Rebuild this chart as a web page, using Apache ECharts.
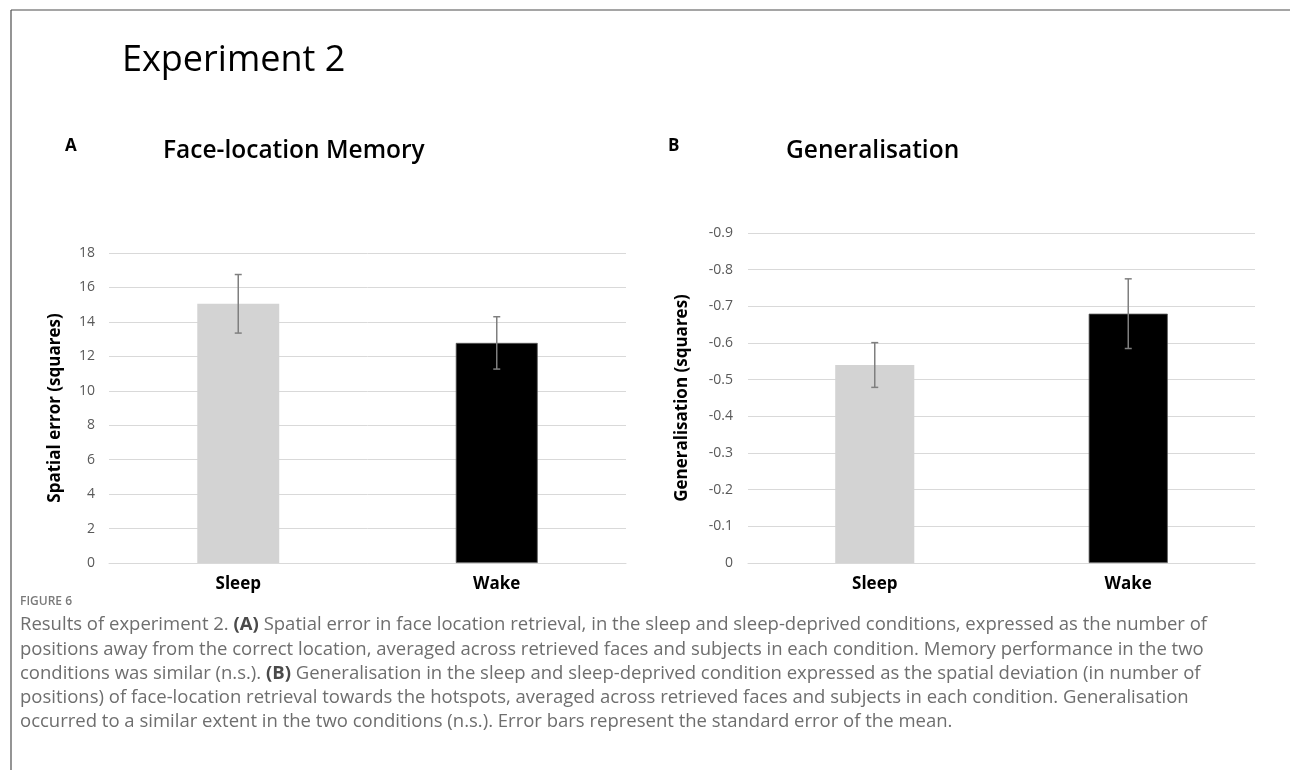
<!DOCTYPE html>
<html>
<head>
<meta charset="utf-8">
<script src="https://cdn.jsdelivr.net/npm/echarts@6/dist/echarts.min.js"></script>
<style>
html,body{margin:0;padding:0;background:#fff;}
#c{width:1290px;height:770px;}
</style>
</head>
<body>
<div id="c"></div>
<script>
// ---- data ----
const categories = ['Sleep', 'Wake'];
const memoryMeans = [15.05, 12.78];
const memorySE = [1.70, 1.52];
const genMeans = [-0.54, -0.68];
const genSE = [0.061, 0.095];
const barColors = ['#d3d3d3', '#000000'];
const captionLines = [
  'Results of experiment 2. {b|(A)} Spatial error in face location retrieval, in the sleep and sleep-deprived conditions, expressed as the number of',
  'positions away from the correct location, averaged across retrieved faces and subjects in each condition. Memory performance in the two',
  'conditions was similar (n.s.). {b|(B)} Generalisation in the sleep and sleep-deprived condition expressed as the spatial deviation (in number of',
  'positions) of face-location retrieval towards the hotspots, averaged across retrieved faces and subjects in each condition. Generalisation',
  'occurred to a similar extent in the two conditions (n.s.). Error bars represent the standard error of the mean.'
];

const FONT = '"Open Sans", "Noto Sans", sans-serif';
const chart = echarts.init(document.getElementById('c'), null, {renderer: 'canvas'});

function errRender(params, api) {
  const x = api.value(0);
  const p1 = api.coord([x, api.value(1)]);
  const p2 = api.coord([x, api.value(2)]);
  const st = {stroke: '#7f7f7f', lineWidth: 1.5};
  const w = 3.5;
  return {
    type: 'group',
    children: [
      {type: 'line', shape: {x1: p1[0], y1: p1[1], x2: p2[0], y2: p2[1]}, style: st},
      {type: 'line', shape: {x1: p1[0] - w, y1: p1[1], x2: p1[0] + w, y2: p1[1]}, style: st},
      {type: 'line', shape: {x1: p2[0] - w, y1: p2[1], x2: p2[0] + w, y2: p2[1]}, style: st}
    ]
  };
}

function barData(vals) {
  return vals.map((v, i) => ({value: v, itemStyle: {color: barColors[i], borderColor: i === 1 ? '#595959' : barColors[i], borderWidth: i === 1 ? 0.8 : 0}}));
}

const axisLabelStyle = {color: '#595959', fontSize: 14, fontFamily: FONT};
const catLabel = {color: '#000', fontSize: 17, fontWeight: 'bold', fontFamily: FONT, margin: 13};
const gridLine = {show: true, lineStyle: {color: '#d9d9d9', width: 1}};

function txt(x, y, text, size, weight, fill) {
  return {type: 'text', x: x, y: y, style: {text: text, fontSize: size, fontWeight: weight, fontFamily: FONT, fill: fill, verticalAlign: 'middle', align: 'left'}};
}

const graphics = [
  {type: 'line', shape: {x1: 11, y1: 10, x2: 1290, y2: 10}, style: {stroke: '#4d4d4d', lineWidth: 1.2}},
  {type: 'line', shape: {x1: 11, y1: 10, x2: 11, y2: 770}, style: {stroke: '#4d4d4d', lineWidth: 1.2}},
  txt(122, 61, 'Experiment 2', 36, 'normal', '#000'),
  txt(65, 146, 'A', 17, 'bold', '#000'),
  txt(163, 151, 'Face-location Memory', 24.5, 600, '#000'),
  txt(668, 146, 'B', 17, 'bold', '#000'),
  txt(786, 151, 'Generalisation', 24.5, 600, '#000'),
  txt(20, 602, 'FIGURE 6', 12, 600, '#7a7a7a')
];
captionLines.forEach((t, i) => {
  graphics.push({
    type: 'text', x: 20, y: 625 + i * 24.3,
    style: {
      text: t, fontSize: 18.5, fontFamily: FONT, fill: '#6e6e6e', verticalAlign: 'middle', align: 'left',
      rich: {b: {fontSize: 18.5, fontWeight: 'bold', fontFamily: FONT, fill: '#4a4a4a'}}
    }
  });
});

const option = {
  animation: false,
  backgroundColor: '#fff',
  graphic: graphics,
  grid: [
    {left: 109, right: 1290 - 626, top: 253, bottom: 770 - 563},
    {left: 748, right: 1290 - 1255, top: 233, bottom: 770 - 563}
  ],
  xAxis: [
    {type: 'category', gridIndex: 0, data: categories, axisTick: {show: false},
     axisLine: {lineStyle: {color: '#d9d9d9'}}, axisLabel: catLabel},
    {type: 'category', gridIndex: 1, data: categories, axisTick: {show: false},
     axisLine: {lineStyle: {color: '#d9d9d9'}}, axisLabel: catLabel}
  ],
  yAxis: [
    {type: 'value', gridIndex: 0, min: 0, max: 18, interval: 2,
     axisLine: {show: false}, axisTick: {show: false}, splitLine: gridLine,
     axisLabel: Object.assign({margin: 14}, axisLabelStyle),
     name: 'Spatial error (squares)', nameLocation: 'middle', nameRotate: 90, nameGap: 45,
     nameTextStyle: {fontSize: 17, fontWeight: 'bold', fontFamily: FONT, color: '#000'}},
    {type: 'value', gridIndex: 1, min: -0.9, max: 0, interval: 0.1, inverse: true,
     axisLine: {show: false}, axisTick: {show: false}, splitLine: gridLine,
     axisLabel: Object.assign({margin: 15, formatter: v => (Math.abs(v) < 1e-9 ? '0' : (Math.round(v * 10) / 10).toFixed(1))}, axisLabelStyle),
     name: 'Generalisation (squares)', nameLocation: 'middle', nameRotate: 90, nameGap: 57,
     nameTextStyle: {fontSize: 17, fontWeight: 'bold', fontFamily: FONT, color: '#000'}}
  ],
  series: [
    {type: 'bar', xAxisIndex: 0, yAxisIndex: 0, barWidth: '31.7%', data: barData(memoryMeans)},
    {type: 'custom', xAxisIndex: 0, yAxisIndex: 0, renderItem: errRender, z: 5,
     encode: {x: 0, y: [1, 2]},
     data: categories.map((c, i) => [i, memoryMeans[i] - memorySE[i], memoryMeans[i] + memorySE[i]])},
    {type: 'bar', xAxisIndex: 1, yAxisIndex: 1, barWidth: '31.2%', data: barData(genMeans)},
    {type: 'custom', xAxisIndex: 1, yAxisIndex: 1, renderItem: errRender, z: 5,
     encode: {x: 0, y: [1, 2]},
     data: categories.map((c, i) => [i, genMeans[i] - genSE[i], genMeans[i] + genSE[i]])}
  ]
};
chart.setOption(option);
</script>
</body>
</html>
